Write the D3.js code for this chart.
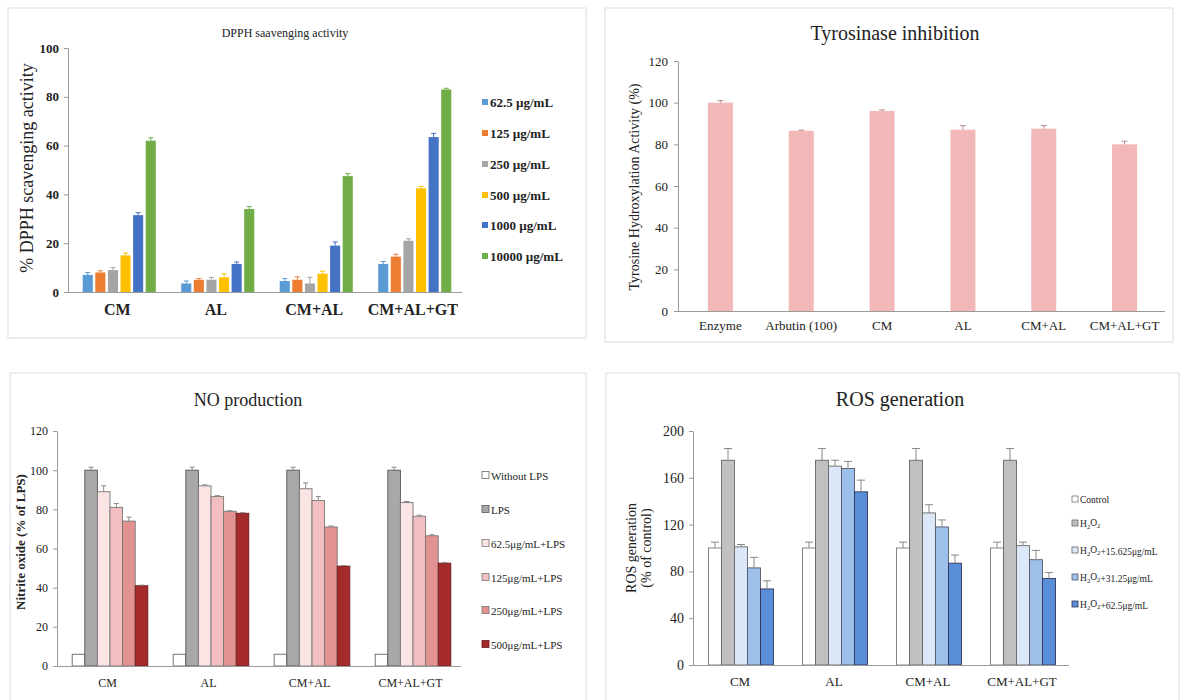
<!DOCTYPE html>
<html>
<head>
<meta charset="utf-8">
<script src="https://cdn.jsdelivr.net/npm/d3@7"></script>
<style>
  html, body { margin: 0; padding: 0; background: #fff; }
  svg { display: block; }
  text { font-family: "Liberation Serif", "Times New Roman", serif; fill: #222; }
</style>
</head>
<body>
<svg id="chart" width="1182" height="700"></svg>
<script>
// ---------------- DATA ----------------
// Panel A: DPPH scavenging activity
const dpphCategories = ["CM", "AL", "CM+AL", "CM+AL+GT"];
const dpphSeries = ["62.5 µg/mL", "125 µg/mL", "250 µg/mL", "500 µg/mL", "1000 µg/mL", "10000 µg/mL"];
const dpphValues = [
  [7, 3.5, 4.5, 11.5],
  [8, 5, 5, 14.5],
  [9, 5, 3.5, 21],
  [15, 6, 7.5, 42.5],
  [31.5, 11.5, 19, 63.5],
  [62, 34, 47.5, 83]
];
const dpphErrors = [
  [1, 1, 1, 1],
  [0.7, 0.5, 1.2, 1],
  [1, 1, 2.5, 0.8],
  [1, 1.5, 1, 0.8],
  [1, 0.8, 1.5, 1.5],
  [1.2, 1, 1, 0.5]
];
const dpphTicks = [0, 20, 40, 60, 80, 100];

// Panel B: Tyrosinase inhibition
const tyrCategories = ["Enzyme", "Arbutin (100)", "CM", "AL", "CM+AL", "CM+AL+GT"];
const tyrValues = [100, 86.5, 96, 87, 87.5, 80];
const tyrErrors = [1, 0.3, 0.5, 2, 1.5, 1.5];
const tyrTicks = [0, 20, 40, 60, 80, 100, 120];

// Panel C: NO production
const noCategories = ["CM", "AL", "CM+AL", "CM+AL+GT"];
const noSeries = ["Without LPS", "LPS", "62.5μg/mL+LPS", "125μg/mL+LPS", "250μg/mL+LPS", "500μg/mL+LPS"];
const noValues = [
  [6, 6, 6, 6],
  [100, 100, 100, 100],
  [89, 92, 90.5, 83.5],
  [81, 86.5, 84.5, 76.5],
  [74, 79, 71, 66.5],
  [41, 78, 51, 52.5]
];
const noErrors = [
  [0, 0, 0, 0],
  [1.5, 1.5, 1.5, 1.5],
  [3, 0.5, 3, 0.5],
  [2, 0.5, 2, 0.5],
  [2, 0.3, 0.5, 0.5],
  [0.3, 0.3, 0.3, 0.3]
];
const noTicks = [0, 20, 40, 60, 80, 100, 120];

// Panel D: ROS generation
const rosCategories = ["CM", "AL", "CM+AL", "CM+AL+GT"];
const rosSeries = ["Control", "H2O2", "H2O2+15.625μg/mL", "H2O2+31.25μg/mL", "H2O2+62.5μg/mL"];
const rosValues = [
  [100, 100, 100, 100],
  [175, 175, 175, 175],
  [101, 170, 130, 102],
  [83, 168, 118, 90],
  [65, 148, 87, 74]
];
const rosErrors = [
  [5, 5, 5, 5],
  [10, 10, 10, 10],
  [2, 5, 7, 3],
  [9, 6, 6, 8],
  [7, 10, 7, 5]
];
const rosTicks = [0, 40, 80, 120, 160, 200];

// ---------------- DRAWING ----------------
const SERIF = '"Liberation Serif", "Times New Roman", serif';
const svg = d3.select("#chart");

// panel frames
const frames = [
  [8, 8, 578, 330],
  [605, 8, 568, 334],
  [10, 373, 576, 340],
  [606, 373, 573, 340]
];
svg.selectAll("rect.frame").data(frames).join("rect")
  .attr("class", "frame")
  .attr("x", d => d[0]).attr("y", d => d[1])
  .attr("width", d => d[2]).attr("height", d => d[3])
  .attr("fill", "none").attr("stroke", "#e2e2e2").attr("stroke-width", 1.2);

function subText(sel, label) {
  // render "H2O2" style labels with subscripts
  const parts = label.split(/(H2O2)/);
  parts.forEach(p => {
    if (p === "H2O2") {
      sel.append("tspan").text("H");
      sel.append("tspan").attr("font-size", "0.7em").attr("dy", "0.25em").text("2");
      sel.append("tspan").attr("dy", "-0.25em").text("O");
      sel.append("tspan").attr("font-size", "0.7em").attr("dy", "0.25em").text("2");
      sel.append("tspan").attr("dy", "-0.25em").text("");
    } else if (p.length) {
      sel.append("tspan").text(p);
    }
  });
}

function drawChart(o) {
  const g = svg.append("g");
  const y = d3.scaleLinear().domain(o.yDomain).range([o.y0, o.y1]);
  const x = d3.scaleBand().domain(o.categories).range([o.xLeft, o.xRight]).paddingInner(0).paddingOuter(0);
  const nS = o.values.length;
  const groupW = o.barStep * nS;
  const xs = d3.scaleBand().domain(d3.range(nS)).range([0, groupW]).paddingInner(o.barPad).paddingOuter(o.barPad / 2);

  // bars
  o.values.forEach((row, si) => {
    const bars = g.append("g");
    bars.selectAll("rect").data(row).join("rect")
      .attr("x", (d, ci) => x(o.categories[ci]) + x.bandwidth() / 2 - groupW / 2 + o.groupShift + xs(si))
      .attr("y", d => y(d))
      .attr("width", xs.bandwidth())
      .attr("height", d => y(0) - y(d))
      .attr("fill", o.colors[si])
      .attr("stroke", o.stroke ? o.stroke[si] : "none")
      .attr("stroke-width", o.strokeWidth || 0);
    // error bars
    const errs = o.errors[si];
    const eb = g.append("g").attr("stroke", o.errColor ? o.errColor(si) : "#777").attr("stroke-width", 1).attr("fill", "none");
    row.forEach((d, ci) => {
      if (!errs[ci]) return;
      const cx = x(o.categories[ci]) + x.bandwidth() / 2 - groupW / 2 + o.groupShift + xs(si) + xs.bandwidth() / 2;
      eb.append("line").attr("x1", cx).attr("x2", cx).attr("y1", y(d)).attr("y2", y(d + errs[ci]));
      eb.append("line").attr("x1", cx - o.cap).attr("x2", cx + o.cap).attr("y1", y(d + errs[ci])).attr("y2", y(d + errs[ci]));
    });
  });

  // y axis
  const ya = g.append("g").attr("transform", `translate(${o.axisX},0)`)
    .call(d3.axisLeft(y).tickValues(o.ticks).tickSize(4).tickSizeOuter(0).tickPadding(o.tickPad || 4));
  ya.attr("font-family", null);
  ya.select(".domain").attr("stroke", "#9a9a9a");
  ya.selectAll(".tick line").attr("stroke", "#9a9a9a");
  ya.selectAll(".tick text")
    .style("font-family", SERIF)
    .attr("font-size", o.tickFont).attr("font-weight", o.tickBold ? "bold" : "normal").attr("fill", "#333");

  // x axis
  const xa = g.append("g").attr("transform", `translate(0,${o.y0})`)
    .call(d3.axisBottom(x).tickSize(0).tickPadding(o.catPad));
  xa.attr("font-family", null);
  xa.select(".domain").attr("stroke", "#9a9a9a").attr("d", `M${o.axisX},0.5H${o.xRight}`);
  xa.selectAll(".tick text")
    .style("font-family", SERIF)
    .attr("font-size", o.catFont).attr("font-weight", o.catBold ? "bold" : "normal").attr("fill", "#222");

  // title
  g.append("text").attr("x", o.titleX).attr("y", o.titleY).attr("text-anchor", "middle")
    .attr("font-size", o.titleFont).text(o.title);

  // y label
  const lineGap = o.yLabelLine || 0;
  o.yLabel.forEach((lab, i) => {
    g.append("text")
      .attr("transform", `translate(${o.yLabelX + i * lineGap},${o.yLabelY}) rotate(-90)`)
      .attr("text-anchor", "middle")
      .attr("font-size", o.yLabelFont)
      .attr("font-weight", o.yLabelBold ? "bold" : "normal")
      .text(lab);
  });

  // legend
  if (o.series) {
    const lg = g.append("g");
    o.series.forEach((s, i) => {
      const ly = o.legendY[i];
      lg.append("rect").attr("x", o.legendX).attr("y", ly - o.legendSq / 2 - 1)
        .attr("width", o.legendSq).attr("height", o.legendSq)
        .attr("fill", o.colors[i])
        .attr("stroke", o.stroke ? o.stroke[i] : "none").attr("stroke-width", o.stroke ? 0.8 : 0);
      const t = lg.append("text").attr("x", o.legendX + o.legendSq + 2).attr("y", ly + o.legendFont * 0.33)
        .attr("font-size", o.legendFont).attr("font-weight", o.legendBold ? "bold" : "normal");
      subText(t, s);
    });
  }
}

// Panel A
const dpphColors = ["#5B9BD5", "#ED7D31", "#A5A5A5", "#FFC000", "#4472C4", "#70AD47"];
drawChart({
  categories: dpphCategories, values: dpphValues, errors: dpphErrors, ticks: dpphTicks,
  yDomain: [0, 100], y0: 292, y1: 48, xLeft: 68, xRight: 462, axisX: 68,
  barStep: 12.6, barPad: 0.2, groupShift: 2, cap: 2.5,
  colors: dpphColors, errColor: si => dpphColors[si],
  tickFont: 13, tickBold: true, tickPad: 5,
  catFont: 16, catBold: true, catPad: 12,
  title: "DPPH saavenging activity", titleX: 285, titleY: 37, titleFont: 12,
  yLabel: ["% DPPH scavenging activity"], yLabelX: 33, yLabelY: 168, yLabelFont: 18,
  series: dpphSeries, legendX: 482, legendY: [103, 134, 165, 196, 226, 257], legendSq: 6,
  legendFont: 13, legendBold: true
});

// Panel B
drawChart({
  categories: tyrCategories, values: [tyrValues], errors: [tyrErrors], ticks: tyrTicks,
  yDomain: [0, 120], y0: 311, y1: 61, xLeft: 680, xRight: 1165, axisX: 678,
  barStep: 25, barPad: 0, groupShift: 0, cap: 3,
  colors: ["#F2B8B8"], errColor: () => "#b98a8a",
  tickFont: 13, tickBold: false, tickPad: 6,
  catFont: 13, catBold: false, catPad: 10,
  title: "Tyrosinase  inhibition", titleX: 895, titleY: 40, titleFont: 20,
  yLabel: ["Tyrosine Hydroxylation Activity (%)"], yLabelX: 639, yLabelY: 187, yLabelFont: 14
});

// Panel C
const noColors = ["#FFFFFF", "#A8A8A8", "#FBE4E4", "#F2BEBF", "#E39292", "#A52B2B"];
drawChart({
  categories: noCategories, values: noValues, errors: noErrors, ticks: noTicks,
  yDomain: [0, 120], y0: 666, y1: 431, xLeft: 57, xRight: 461, axisX: 57,
  barStep: 12.6, barPad: 0, groupShift: 2.5, cap: 2.5,
  colors: noColors, stroke: ["#666", "#555", "#777", "#777", "#777", "#6b1d1d"], strokeWidth: 0.9,
  errColor: () => "#888",
  tickFont: 12, tickBold: false, tickPad: 5,
  catFont: 12, catBold: false, catPad: 12,
  title: "NO production", titleX: 248, titleY: 406, titleFont: 18,
  yLabel: ["Nitrite oxide (% of LPS)"], yLabelX: 25, yLabelY: 542, yLabelFont: 13, yLabelBold: true,
  series: noSeries, legendX: 482, legendY: [476, 510, 544, 578, 611, 645], legendSq: 7,
  legendFont: 11
});

// Panel D
const rosColors = ["#FFFFFF", "#C0C0C0", "#DAE8F8", "#9DC0EA", "#5A8ED8"];
drawChart({
  categories: rosCategories, values: rosValues, errors: rosErrors, ticks: rosTicks,
  yDomain: [0, 200], y0: 665, y1: 431, xLeft: 693, xRight: 1069, axisX: 693,
  barStep: 13, barPad: 0, groupShift: 1, cap: 4,
  colors: rosColors, stroke: ["#777", "#666", "#666", "#556", "#335"], strokeWidth: 0.9,
  errColor: () => "#888",
  tickFont: 14, tickBold: false, tickPad: 5,
  catFont: 13, catBold: false, catPad: 12,
  title: "ROS generation", titleX: 900, titleY: 406, titleFont: 20,
  yLabel: ["ROS generation", "(% of control)"], yLabelX: 636, yLabelLine: 15, yLabelY: 548, yLabelFont: 14,
  series: rosSeries, legendX: 1072, legendY: [500, 524, 551, 578, 605], legendSq: 6,
  legendFont: 9.5
});
</script>
</body>
</html>
